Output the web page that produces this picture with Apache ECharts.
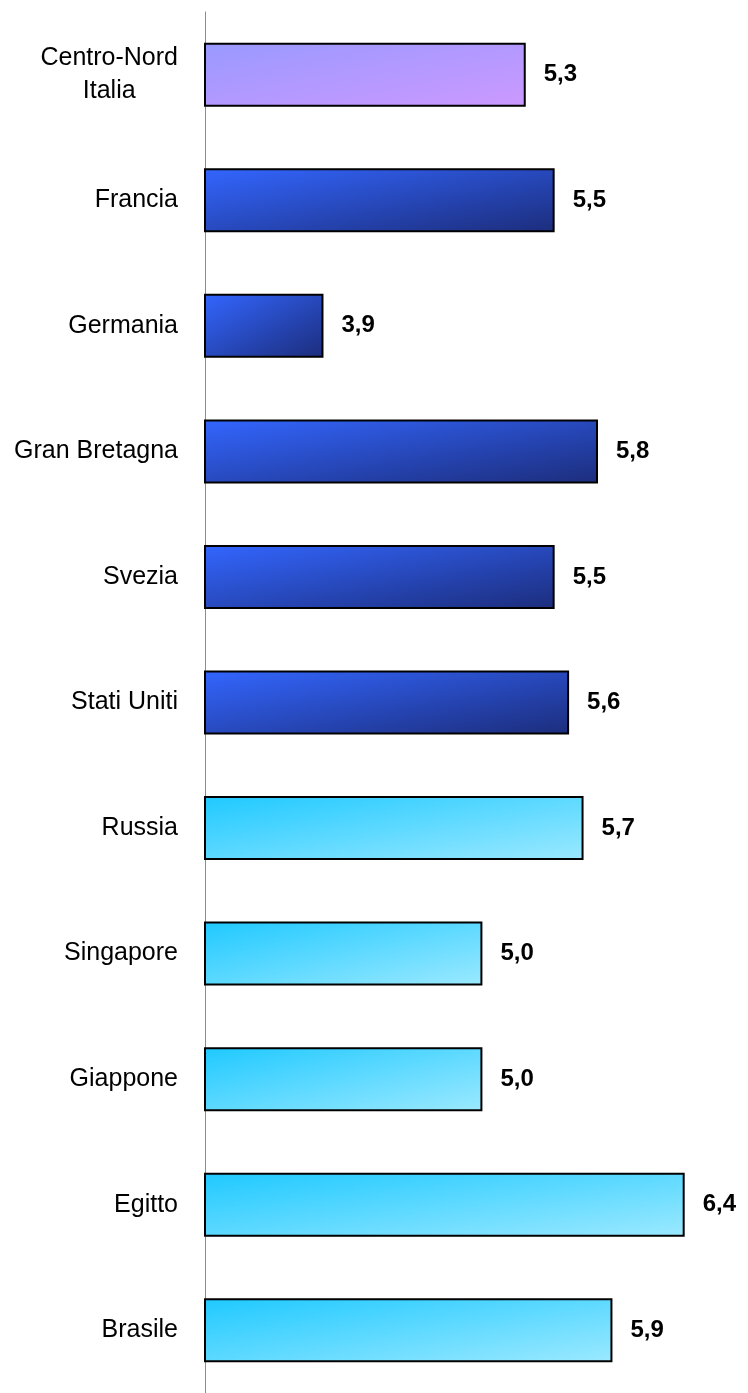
<!DOCTYPE html>
<html>
<head>
<meta charset="utf-8">
<title>Valori per paese</title>
<script src="https://cdn.jsdelivr.net/npm/echarts@6/dist/echarts.min.js"></script>
<style>
  html, body { margin: 0; padding: 0; background: #ffffff; }
  #chart { width: 748px; height: 1393px; }
</style>
</head>
<body>
<div id="chart"></div>
<script>
// Categories, top to bottom
const categories = [
  'Centro-Nord\nItalia', 'Francia', 'Germania', 'Gran Bretagna', 'Svezia',
  'Stati Uniti', 'Russia', 'Singapore', 'Giappone', 'Egitto', 'Brasile'
];
// Values shown on each bar
const values = [5.3, 5.5, 3.9, 5.8, 5.5, 5.6, 5.7, 5.0, 5.0, 6.4, 5.9];
// Colour group of each bar
const groups = ['italia', 'europa', 'europa', 'europa', 'europa',
                'europa', 'altri', 'altri', 'altri', 'altri', 'altri'];
// Gradient end colours per group: [top-left, bottom-right]
const groupColors = {
  italia: ['#9999ff', '#cc99ff'],
  europa: ['#3366ff', '#1c2d7c'],
  altri:  ['#1fc9ff', '#9be9ff']
};

const AXIS_MIN = 3.08;
const AXIS_MAX = 6.769;
const BAR_W = 64;
const FONT = '"Liberation Sans", Arial, Helvetica, sans-serif';

const chart = echarts.init(document.getElementById('chart'), null, { renderer: 'canvas' });

function buildOption(data) {
  return {
    animation: false,
    backgroundColor: '#ffffff',
    grid: { left: 205, right: 10, top: 12, bottom: -5, containLabel: false },
    xAxis: {
      type: 'value',
      min: AXIS_MIN,
      max: AXIS_MAX,
      show: false
    },
    yAxis: {
      type: 'category',
      inverse: true,
      data: categories,
      axisLine: { show: true, lineStyle: { color: '#8c8c8c', width: 1 } },
      axisTick: { show: false },
      splitLine: { show: false },
      axisLabel: {
        margin: 27,
        color: '#000000',
        fontSize: 25,
        fontFamily: FONT,
        formatter: function (v) {
          if (v.indexOf('\n') >= 0) {
            return v.split('\n').map(function (s) { return '{c|' + s + '}'; }).join('\n');
          }
          return v;
        },
        rich: {
          c: { align: 'center', fontSize: 25, lineHeight: 33, color: '#000000', fontFamily: FONT }
        }
      }
    },
    series: [{
      type: 'bar',
      barWidth: BAR_W,
      data: data,
      itemStyle: { borderColor: '#000000', borderWidth: 2 },
      label: {
        show: true,
        position: 'right',
        distance: 18,
        color: '#000000',
        fontSize: 24,
        fontWeight: 'bold',
        fontFamily: FONT,
        formatter: function (p) { return p.value.toFixed(1).replace('.', ','); }
      }
    }]
  };
}

// First pass: plain bars, so the axis scale can be queried
chart.setOption(buildOption(values.map(function (v, i) {
  return { value: v, itemStyle: { color: groupColors[groups[i]][0] } };
})));

// Second pass: diagonal gradient whose isolines run corner to corner on each bar
const x0 = chart.convertToPixel({ xAxisIndex: 0 }, AXIS_MIN);
const styled = values.map(function (v, i) {
  const w = Math.max(1, chart.convertToPixel({ xAxisIndex: 0 }, v) - x0);
  const h = BAR_W;
  const d = h * h + w * w;
  const c = groupColors[groups[i]];
  return {
    value: v,
    itemStyle: {
      color: new echarts.graphic.LinearGradient(0, 0, 2 * h * h / d, 2 * w * w / d, [
        { offset: 0, color: c[0] },
        { offset: 1, color: c[1] }
      ])
    }
  };
});
chart.setOption(buildOption(styled));
</script>
</body>
</html>
